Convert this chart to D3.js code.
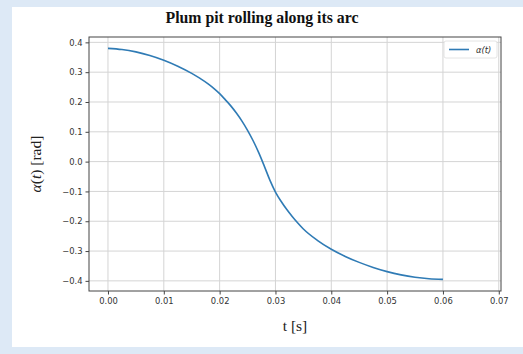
<!DOCTYPE html>
<html>
<head>
<meta charset="utf-8">
<script src="https://cdn.jsdelivr.net/npm/d3@7"></script>
<style>
  html, body { margin: 0; padding: 0; background: #dde9f6; }
  svg { display: block; }
</style>
</head>
<body>
<svg id="chart" width="523" height="354"></svg>
<script>
// time samples [s] and angle [rad]
const times = [0, 0.0025, 0.005, 0.0075, 0.01, 0.0125, 0.015, 0.0165, 0.018, 0.019,
  0.02, 0.021, 0.022, 0.023, 0.024, 0.025, 0.026, 0.027, 0.028, 0.029, 0.030,
  0.031, 0.032, 0.033, 0.034, 0.035, 0.0375, 0.04, 0.0425, 0.045, 0.0475, 0.05,
  0.0525, 0.055, 0.0575, 0.06]
const alpha = [0.380, 0.376, 0.368, 0.356, 0.340, 0.320, 0.296, 0.279, 0.260, 0.245,
  0.228, 0.208, 0.187, 0.163, 0.136, 0.105, 0.070, 0.030, -0.015, -0.062, -0.102,
  -0.133, -0.160, -0.184, -0.206, -0.226, -0.264, -0.294, -0.318, -0.338, -0.355, -0.369,
  -0.380, -0.388, -0.393, -0.395]
const xTicks = [0, 0.01, 0.02, 0.03, 0.04, 0.05, 0.06, 0.07]
const yTicks = [0.4, 0.3, 0.2, 0.1, 0.0, -0.1, -0.2, -0.3, -0.4]
const seriesName = 'α(t)'

const svg = d3.select('#chart')
const plot = {left: 89, right: 501, top: 37, bottom: 291}

// white card
svg.append('rect')
  .attr('x', 12).attr('y', 7)
  .attr('width', 523 - 12).attr('height', 347 - 7)
  .attr('fill', '#fff')

const scaleX = d3.scaleLinear().domain([-0.0034, 0.0704]).range([plot.left, plot.right])
const scaleY = d3.scaleLinear().domain([-0.434, 0.418]).range([plot.bottom, plot.top])

// grid
const grid = svg.append('g')
grid.selectAll('line.gx').data(xTicks).join('line')
  .attr('x1', d => scaleX(d)).attr('x2', d => scaleX(d))
  .attr('y1', plot.top).attr('y2', plot.bottom)
  .attr('stroke', '#d4d4d4').attr('stroke-width', 1)
grid.selectAll('line.gy').data(yTicks).join('line')
  .attr('y1', d => scaleY(d)).attr('y2', d => scaleY(d))
  .attr('x1', plot.left).attr('x2', plot.right)
  .attr('stroke', '#d4d4d4').attr('stroke-width', 1)

// curve
const line = d3.line()
  .x((d, i) => scaleX(times[i]))
  .y(d => scaleY(d))
  .curve(d3.curveMonotoneX)

svg.append('path')
  .attr('d', line(alpha))
  .attr('fill', 'none')
  .attr('stroke', '#2f7bb5')
  .attr('stroke-width', 1.6)

// frame
svg.append('rect')
  .attr('x', plot.left).attr('y', plot.top)
  .attr('width', plot.right - plot.left).attr('height', plot.bottom - plot.top)
  .attr('fill', 'none').attr('stroke', '#444').attr('stroke-width', 1)

// axes
const axisX = d3.axisBottom(scaleX).tickValues(xTicks).tickFormat(d3.format('.2f')).tickSize(3.5).tickPadding(4)
const axisY = d3.axisLeft(scaleY).tickValues(yTicks)
  .tickFormat(d => d3.format('.1f')(d).replace('-', '\u2212')).tickSize(3.5).tickPadding(3)

const gx = svg.append('g').attr('transform', `translate(0, ${plot.bottom})`).call(axisX)
const gy = svg.append('g').attr('transform', `translate(${plot.left}, 0)`).call(axisY)
for (const g of [gx, gy]) {
  g.select('.domain').remove()
  g.selectAll('line').attr('stroke', '#444')
  g.selectAll('text')
    .attr('font-family', 'DejaVu Sans, sans-serif')
    .attr('font-size', 8.4)
    .attr('fill', '#333')
}

// title and labels
svg.append('text')
  .attr('x', 262).attr('y', 23)
  .attr('text-anchor', 'middle')
  .attr('font-family', 'Liberation Serif, serif')
  .attr('font-weight', 'bold')
  .attr('font-size', 15.8)
  .attr('fill', '#111')
  .text('Plum pit rolling along its arc')

svg.append('text')
  .attr('x', 295).attr('y', 331)
  .attr('text-anchor', 'middle')
  .attr('font-family', 'Liberation Serif, serif')
  .attr('font-size', 15.5)
  .attr('fill', '#222')
  .text('t [s]')

const yl = svg.append('text')
  .attr('transform', `translate(41, ${(plot.top + plot.bottom) / 2}) rotate(-90)`)
  .attr('text-anchor', 'middle')
  .attr('font-family', 'Liberation Serif, serif')
  .attr('font-size', 15.5)
  .attr('fill', '#222')
yl.append('tspan').attr('font-style', 'italic').text('α')
yl.append('tspan').text('(')
yl.append('tspan').attr('font-style', 'italic').text('t')
yl.append('tspan').text(') [rad]')

// legend
const lg = svg.append('g')
lg.append('rect')
  .attr('x', 444).attr('y', 41).attr('width', 53).attr('height', 17).attr('rx', 2)
  .attr('fill', '#fff').attr('stroke', '#ddd').attr('stroke-width', 0.8)
lg.append('line')
  .attr('x1', 449).attr('x2', 469).attr('y1', 49.5).attr('y2', 49.5)
  .attr('stroke', '#2f7bb5').attr('stroke-width', 1.6)
lg.append('text')
  .attr('x', 476).attr('y', 52.5)
  .attr('font-family', 'DejaVu Sans, sans-serif')
  .attr('font-style', 'italic')
  .attr('font-size', 8.4)
  .attr('fill', '#333')
  .text(seriesName)
</script>
</body>
</html>
